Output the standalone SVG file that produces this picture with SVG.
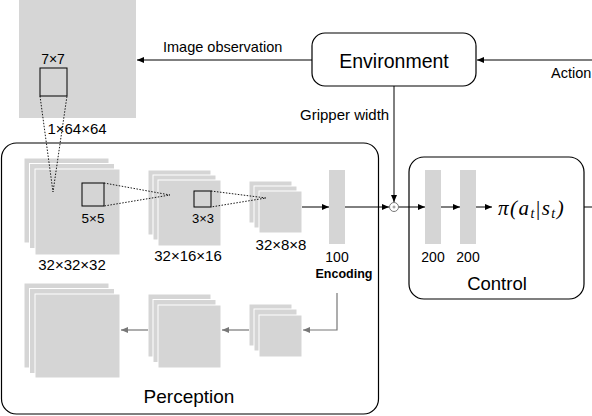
<svg xmlns="http://www.w3.org/2000/svg" width="592" height="416" viewBox="0 0 592 416">
<defs>
<marker id="ah" markerUnits="userSpaceOnUse" markerWidth="8" markerHeight="6" refX="7" refY="3" orient="auto"><path d="M0,0 L7,3 L0,6 z" fill="#000"/></marker>
<marker id="ahg" markerUnits="userSpaceOnUse" markerWidth="8" markerHeight="6" refX="7" refY="3" orient="auto"><path d="M0,0 L7,3 L0,6 z" fill="#777"/></marker>
</defs>
<style>
text{font-family:"Liberation Sans",Arial,sans-serif;fill:#000}
.lbl{font-size:14px}
.dim{font-size:15px}
.fm{fill:#d5d5d5;stroke:#fff;stroke-width:1}
.box{fill:#fff;stroke:#000;stroke-width:1.2}
.k{stroke:#000;stroke-width:1;fill:none}
.g{stroke:#777;stroke-width:1.2;fill:none}
.dot{stroke:#000;stroke-width:0.9;stroke-dasharray:1.5,1.5;fill:none}
.win{fill:none;stroke:#000;stroke-width:1}
.math{font-family:"Liberation Serif","Times New Roman",serif;font-style:italic;font-size:21px;letter-spacing:1.5px}
</style>
<rect width="592" height="416" fill="#fff"/>

<g id="perception">
<rect class="box" x="1.5" y="143" width="377" height="271" rx="15"/>
<text x="189" y="403" font-size="19" text-anchor="middle">Perception</text>
</g>

<g id="control">
<rect class="box" x="409" y="157" width="175" height="142" rx="15"/>
<text x="497" y="290" font-size="18.5" text-anchor="middle">Control</text>
</g>

<g id="environment">
<rect class="box" x="312" y="33" width="164" height="53" rx="13"/>
<text x="394" y="68" font-size="19.5" text-anchor="middle">Environment</text>
</g>

<g id="image">
<rect x="19" y="0" width="117" height="118" fill="#d6d6d6"/>
<rect class="win" x="40" y="68" width="27" height="28"/>
<text x="53" y="64" font-size="14" text-anchor="middle">7×7</text>
<text class="dim" x="77" y="134" text-anchor="middle">1×64×64</text>
</g>

<g id="conv1">
<rect class="fm" x="24" y="158" width="85" height="85"/>
<rect class="fm" x="29.5" y="163.5" width="85" height="85"/>
<rect class="fm" x="35" y="169" width="85" height="86"/>
<rect class="win" x="82" y="183" width="22" height="23"/>
<text x="93" y="223" font-size="13.5" text-anchor="middle">5×5</text>
<text class="dim" x="72" y="270" text-anchor="middle">32×32×32</text>
</g>

<g id="conv2">
<rect class="fm" x="148" y="170" width="63" height="65"/>
<rect class="fm" x="153" y="175" width="63" height="65"/>
<rect class="fm" x="158" y="180" width="63" height="66"/>
<rect class="win" x="194" y="191" width="17" height="16"/>
<text x="203" y="223" font-size="13" text-anchor="middle">3×3</text>
<text class="dim" x="188" y="261" text-anchor="middle">32×16×16</text>
</g>

<g id="conv3">
<rect class="fm" x="249" y="181" width="43" height="42"/>
<rect class="fm" x="254" y="186" width="43" height="42"/>
<rect class="fm" x="259" y="191" width="43" height="42"/>
<text class="dim" x="281" y="250" text-anchor="middle">32×8×8</text>
</g>

<g id="encoding">
<rect x="329" y="170" width="16" height="74" fill="#d5d5d5"/>
<text class="lbl" x="337" y="262" text-anchor="middle">100</text>
<text x="344" y="278" font-size="12.5" text-anchor="middle" font-weight="bold">Encoding</text>
</g>

<g id="fc1">
<rect x="425" y="170" width="16" height="74" fill="#d5d5d5"/>
<text class="lbl" x="433" y="262" text-anchor="middle">200</text>
</g>
<g id="fc2">
<rect x="460" y="170" width="16" height="74" fill="#d5d5d5"/>
<text class="lbl" x="468" y="262" text-anchor="middle">200</text>
</g>

<g id="policy">
<text class="math" x="498" y="215">π(a<tspan font-size="14" dy="3">t</tspan><tspan dy="-3" font-style="normal">|</tspan>s<tspan font-size="14" dy="3">t</tspan><tspan dy="-3">)</tspan></text>
</g>

<g id="deconv3">
<rect class="fm" x="249" y="304" width="43" height="42"/>
<rect class="fm" x="254" y="309" width="43" height="42"/>
<rect class="fm" x="259" y="315" width="43" height="42"/>
</g>
<g id="deconv2">
<rect class="fm" x="148" y="294" width="63" height="63"/>
<rect class="fm" x="153" y="299.5" width="63" height="63"/>
<rect class="fm" x="158" y="305" width="63" height="63"/>
</g>
<g id="deconv1">
<rect class="fm" x="24" y="283" width="85" height="85"/>
<rect class="fm" x="29.5" y="288.5" width="85" height="85"/>
<rect class="fm" x="35" y="294" width="85" height="84"/>
</g>

<g id="sum">
<circle cx="394" cy="207" r="4.5" fill="#fff" stroke="#777" stroke-width="1"/>
<path d="M392.5,207 h3 M394,205.5 v3" stroke="#777" stroke-width="0.8"/>
</g>

<g id="connectors">
<path class="dot" d="M40,96 L53,192 L67,96"/>
<path class="dot" d="M104,183 L170,195 L104,206"/>
<path class="dot" d="M211,191 L266,198 L211,207"/>
<line class="k" x1="312" y1="60" x2="137" y2="60" marker-end="url(#ah)"/>
<text font-size="14.5" x="163" y="52">Image observation</text>
<line class="k" x1="592" y1="60" x2="477" y2="60" marker-end="url(#ah)"/>
<text font-size="14.5" x="551" y="78">Action</text>
<line class="k" x1="394" y1="86" x2="394" y2="202" marker-end="url(#ah)"/>
<text font-size="15" x="300" y="120">Gripper width</text>
<line class="k" x1="302" y1="207" x2="329" y2="207" marker-end="url(#ah)"/>
<line class="k" x1="345" y1="207" x2="389" y2="207" marker-end="url(#ah)"/>
<line class="k" x1="399" y1="207" x2="425" y2="207" marker-end="url(#ah)"/>
<line class="k" x1="441" y1="207" x2="460" y2="207" marker-end="url(#ah)"/>
<line class="k" x1="476" y1="207" x2="492" y2="207" marker-end="url(#ah)"/>
<line class="k" x1="584" y1="207" x2="592" y2="207"/>
<path class="g" d="M337,293 V330 H303" marker-end="url(#ahg)"/>
<line class="g" x1="249" y1="330" x2="222" y2="330" marker-end="url(#ahg)"/>
<line class="g" x1="148" y1="330" x2="121" y2="330" marker-end="url(#ahg)"/>
</g>
</svg>
